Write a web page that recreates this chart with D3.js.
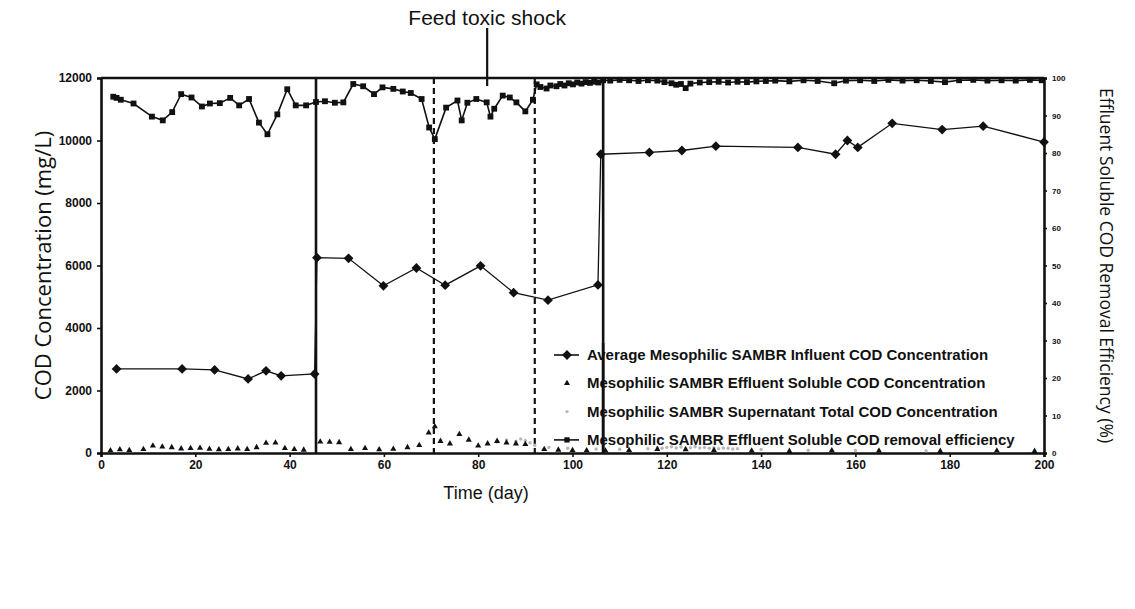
<!DOCTYPE html>
<html>
<head>
<meta charset="utf-8">
<script src="https://cdn.jsdelivr.net/npm/d3@7"></script>
<style>
  body { margin: 0; background: #fff; }
  svg { display: block; }
</style>
</head>
<body>
<svg id="chart" width="1135" height="609"></svg>
<script>
// ---- data -------------------------------------------------------------
// Average influent COD (mg/L)
const influentDays = [3.3, 17.2, 24.1, 31.2, 35.0, 38.2, 45.3,
  45.8, 52.5, 59.9, 66.9, 73.0, 80.5, 87.5, 94.8, 105.4,
  106.0, 116.3, 123.2, 130.4, 147.8, 155.8, 158.3, 160.5, 167.8, 178.4, 187.1, 200.0];
const influentCOD = [2690, 2690, 2660, 2370, 2630, 2470, 2530,
  6250, 6230, 5350, 5920, 5370, 5990, 5130, 4890, 5380,
  9560, 9620, 9680, 9820, 9780, 9560, 10000, 9780, 10550, 10350, 10460, 9950];

// Effluent soluble COD (mg/L)
const effluentDays = [2, 4, 6, 9, 11, 13, 15, 17, 19, 21, 23, 25, 27, 29, 31, 33, 35, 37, 39, 41, 43,
  46.5, 48.5, 50.5, 53, 56, 59, 62, 65, 67.5, 69.5, 70.8, 72, 74, 76, 78, 80, 82, 84, 86, 88, 90,
  94, 97, 100, 103, 107, 112, 118, 124, 130, 138, 146, 155, 165, 178, 190, 198];
const effluentCOD = [80, 110, 90, 120, 230, 200, 180, 140, 150, 160, 130, 110, 120, 140, 120, 180, 320, 330, 150, 120, 100,
  360, 350, 340, 120, 150, 110, 130, 180, 250, 650, 850, 380, 300, 600, 420, 230, 300, 380, 330, 300, 280,
  120, 100, 90, 80, 70, 90, 120, 110, 90, 70, 60, 80, 70, 60, 70, 60];

// Supernatant total COD (mg/L)
const supernatantDays = [84, 86, 88, 89, 90, 91, 92, 95, 99, 105, 110, 116, 118, 119, 120, 121, 122, 123, 124, 125, 126, 127, 128, 129, 130, 131, 132, 133, 134, 135, 140, 150, 160, 175, 190];
const supernatantCOD = [350, 420, 380, 450, 400, 330, 250, 180, 150, 130, 120, 140, 170, 150, 180, 200, 160, 190, 150, 170, 200, 160, 180, 150, 170, 140, 160, 150, 130, 140, 110, 90, 80, 70, 60];

// Effluent soluble COD removal efficiency (%)
const efficiencyDays = [2.6, 3.3, 4.2, 6.9, 10.8, 13.1, 15.1, 17.0, 19.2, 21.4, 23.1, 25.2, 27.4, 29.3, 31.4, 33.5, 35.3, 37.4, 39.5, 41.3, 43.5, 45.6, 47.5, 49.6,
  51.4, 53.5, 55.6, 57.9, 59.7, 62.0, 64.0, 65.7, 68.0, 69.6, 70.8, 73.2, 75.6, 76.5, 77.7, 79.6, 81.8, 82.6, 83.4, 85.2, 86.7, 88.1, 90.0, 91.6,
  92.4, 93.2, 94.5, 95.3, 96.6, 97.4, 98.3, 99.2, 100.1, 101.0, 101.9, 102.8, 103.7, 104.6, 105.5, 106.5, 108, 110, 112, 114, 116, 118, 119.5, 121, 122, 123, 124, 125, 127, 129, 131, 133, 135, 137, 139, 141,
  143, 146, 149, 152, 155.5, 158, 161, 164, 167, 170, 173, 176, 179, 182, 185, 188, 191, 194, 197, 199.5];
const efficiency = [95.0, 94.7, 94.2, 93.2, 89.7, 88.7, 90.9, 95.7, 94.8, 92.4, 93.2, 93.3, 94.7, 92.7, 94.4, 88.1, 85.0, 90.3, 97.0, 92.7, 92.7, 93.6, 93.8, 93.4,
  93.5, 98.4, 97.8, 95.7, 97.5, 97.1, 96.4, 96.0, 94.4, 86.8, 83.7, 92.1, 94.0, 88.7, 93.4, 94.4, 93.5, 89.7, 91.8, 95.3, 94.8, 93.5, 91.1, 94.2,
  98.3, 97.6, 97.2, 98.0, 97.8, 98.4, 98.0, 98.6, 98.3, 98.8, 98.5, 98.9, 98.7, 99.0, 98.8, 99.4, 99.3, 99.5, 99.4, 99.2, 99.4, 99.3, 98.9, 98.6, 98.2, 98.4, 97.3, 98.5, 98.8, 98.9, 99.0, 98.8, 99.0, 98.9, 99.1, 99.2,
  99.3, 99.1, 99.4, 99.2, 98.6, 99.3, 99.4, 99.2, 99.5, 99.3, 99.4, 99.2, 98.9, 99.4, 99.5, 99.3, 99.4, 99.3, 99.5, 99.4];

// Phase boundaries (day) and the toxic shock event
const phaseSolidDays = [45.6, 106.5];
const phaseDashedDays = [70.6, 92.0];
const shockDay = 81.9;

// Axis ticks
const dayTicks = [0, 20, 40, 60, 80, 100, 120, 140, 160, 180, 200];
const codTicks = [0, 2000, 4000, 6000, 8000, 10000, 12000];
const effTicks = [0, 10, 20, 30, 40, 50, 60, 70, 80, 90, 100];

const legendLabels = [
  "Average Mesophilic SAMBR Influent COD Concentration",
  "Mesophilic SAMBR Effluent Soluble COD Concentration",
  "Mesophilic SAMBR Supernatant Total COD Concentration",
  "Mesophilic SAMBR Effluent Soluble COD removal efficiency"
];

// ---- layout -----------------------------------------------------------
const svg = d3.select("#chart");
const plotLeft = 101, plotRight = 1044, plotTop = 78, plotBottom = 453;

const x = d3.scaleLinear().domain([0, 200]).range([plotLeft, plotRight]);
const yL = d3.scaleLinear().domain([0, 12000]).range([plotBottom, plotTop]);
const yR = d3.scaleLinear().domain([0, 100]).range([plotBottom, plotTop]);

const ink = "#111";
const boldFont = "'Liberation Sans', Arial, sans-serif";
const titleFont = "'Open Sans', 'Noto Sans', sans-serif";

// ---- axes ---------------------------------------------------------------
const gx = svg.append("g").attr("transform", `translate(0,${plotBottom})`)
  .call(d3.axisBottom(x).tickValues(dayTicks).tickSize(4).tickPadding(3).tickFormat(d3.format("d")));
const gl = svg.append("g").attr("transform", `translate(${plotLeft},0)`)
  .call(d3.axisLeft(yL).tickValues(codTicks).tickSize(4).tickPadding(5).tickFormat(d3.format("d")));
const gr = svg.append("g").attr("transform", `translate(${plotRight},0)`)
  .call(d3.axisRight(yR).tickValues(effTicks).tickSize(3).tickPadding(5).tickFormat(d3.format("d")));

[gx, gl, gr].forEach(g => {
  g.select(".domain").attr("stroke", ink).attr("stroke-width", 2.6);
  g.selectAll(".tick line").attr("stroke", ink).attr("stroke-width", 1.6);
  g.selectAll("text").attr("fill", ink).attr("font-family", boldFont).attr("font-weight", "bold");
});
gx.selectAll("text").attr("font-size", 12);
gl.selectAll("text").attr("font-size", 12);
gr.selectAll("text").attr("font-size", 8);

// top border of the plot frame
svg.append("line").attr("x1", plotLeft).attr("x2", plotRight).attr("y1", plotTop).attr("y2", plotTop)
  .attr("stroke", ink).attr("stroke-width", 2.6);

// ---- phase lines --------------------------------------------------------
svg.selectAll(".phase-solid").data(phaseSolidDays).join("line")
  .attr("class", "phase-solid")
  .attr("x1", d => x(d)).attr("x2", d => x(d)).attr("y1", plotTop).attr("y2", plotBottom)
  .attr("stroke", ink).attr("stroke-width", 2.6);
svg.selectAll(".phase-dashed").data(phaseDashedDays).join("line")
  .attr("class", "phase-dashed")
  .attr("x1", d => x(d)).attr("x2", d => x(d)).attr("y1", plotTop).attr("y2", plotBottom)
  .attr("stroke", ink).attr("stroke-width", 2.2).attr("stroke-dasharray", "6,4");

// toxic shock marker
svg.append("line").attr("x1", x(shockDay)).attr("x2", x(shockDay)).attr("y1", 28).attr("y2", plotTop + 8)
  .attr("stroke", ink).attr("stroke-width", 2.2);
svg.append("text").attr("x", x(shockDay)).attr("y", 25).attr("text-anchor", "middle")
  .attr("font-family", boldFont).attr("font-size", 21).attr("fill", ink).text("Feed toxic shock");

// ---- series -------------------------------------------------------------
const influent = influentDays.map((d, i) => [d, influentCOD[i]]);
const effluent = effluentDays.map((d, i) => [d, effluentCOD[i]]);
const supernatant = supernatantDays.map((d, i) => [d, supernatantCOD[i]]);
const eff = efficiencyDays.map((d, i) => [d, efficiency[i]]);

// supernatant total COD: faint grey dots
svg.append("g").selectAll("circle").data(supernatant).join("circle")
  .attr("cx", d => x(d[0])).attr("cy", d => yL(d[1])).attr("r", 1.7).attr("fill", "#b8b8b8");

// effluent soluble COD: small triangles
svg.append("g").selectAll("path").data(effluent).join("path")
  .attr("transform", d => `translate(${x(d[0])},${yL(d[1])})`)
  .attr("d", d3.symbol(d3.symbolTriangle, 16)).attr("fill", ink);

// removal efficiency: line with squares
svg.append("path").datum(eff)
  .attr("d", d3.line().x(d => x(d[0])).y(d => yR(d[1])))
  .attr("fill", "none").attr("stroke", ink).attr("stroke-width", 1.6);
svg.append("g").selectAll("path").data(eff).join("path")
  .attr("transform", d => `translate(${x(d[0])},${yR(d[1])})`)
  .attr("d", d3.symbol(d3.symbolSquare, 34)).attr("fill", ink);

// influent COD: line with diamonds
svg.append("path").datum(influent)
  .attr("d", d3.line().x(d => x(d[0])).y(d => yL(d[1])))
  .attr("fill", "none").attr("stroke", ink).attr("stroke-width", 1.3);
svg.append("g").selectAll("path").data(influent).join("path")
  .attr("transform", d => `translate(${x(d[0])},${yL(d[1])}) rotate(45)`)
  .attr("d", d3.symbol(d3.symbolSquare, 48)).attr("fill", ink);

// ---- axis titles --------------------------------------------------------
svg.append("text").attr("transform", `translate(45,${(plotTop + plotBottom) / 2}) rotate(-90)`)
  .attr("text-anchor", "middle").attr("dominant-baseline", "middle")
  .attr("font-family", titleFont).attr("font-size", 22).attr("fill", ink)
  .text("COD Concentration (mg/L)");
svg.append("text").attr("transform", `translate(1105,${(plotTop + plotBottom) / 2}) rotate(90)`)
  .attr("text-anchor", "middle").attr("dominant-baseline", "middle")
  .attr("font-family", titleFont).attr("font-size", 17.5).attr("fill", ink)
  .text("Effluent Soluble COD Removal Efficiency (%)");
svg.append("text").attr("x", 486).attr("y", 499).attr("text-anchor", "middle")
  .attr("font-family", boldFont).attr("font-size", 18).attr("fill", ink).text("Time (day)");

// ---- legend -------------------------------------------------------------
const legendX = 567, legendTextX = 587, legendY0 = 355, legendStep = 28.3;
const lg = svg.append("g");
legendLabels.forEach((label, i) => {
  const cy = legendY0 + i * legendStep;
  if (i === 0 || i === 3) {
    lg.append("line").attr("x1", legendX - 13).attr("x2", legendX + 12).attr("y1", cy).attr("y2", cy)
      .attr("stroke", ink).attr("stroke-width", 1.6);
  }
  if (i === 0) lg.append("path").attr("d", d3.symbol(d3.symbolSquare, 48)).attr("transform", `translate(${legendX},${cy}) rotate(45)`).attr("fill", ink);
  if (i === 1) lg.append("path").attr("d", d3.symbol(d3.symbolTriangle, 16)).attr("transform", `translate(${legendX},${cy})`).attr("fill", ink);
  if (i === 2) lg.append("circle").attr("cx", legendX).attr("cy", cy).attr("r", 1.7).attr("fill", "#b8b8b8");
  if (i === 3) lg.append("path").attr("d", d3.symbol(d3.symbolSquare, 28)).attr("transform", `translate(${legendX},${cy})`).attr("fill", ink);
  lg.append("text").attr("x", legendTextX).attr("y", cy + 5)
    .attr("font-family", boldFont).attr("font-weight", "bold").attr("font-size", 15)
    .attr("fill", ink).text(label);
});
// the later phase line runs over the legend
svg.append("line").attr("x1", x(phaseSolidDays[1])).attr("x2", x(phaseSolidDays[1]))
  .attr("y1", legendY0 - 12).attr("y2", legendY0 + 3 * legendStep + 12)
  .attr("stroke", ink).attr("stroke-width", 2.6);
</script>
</body>
</html>
